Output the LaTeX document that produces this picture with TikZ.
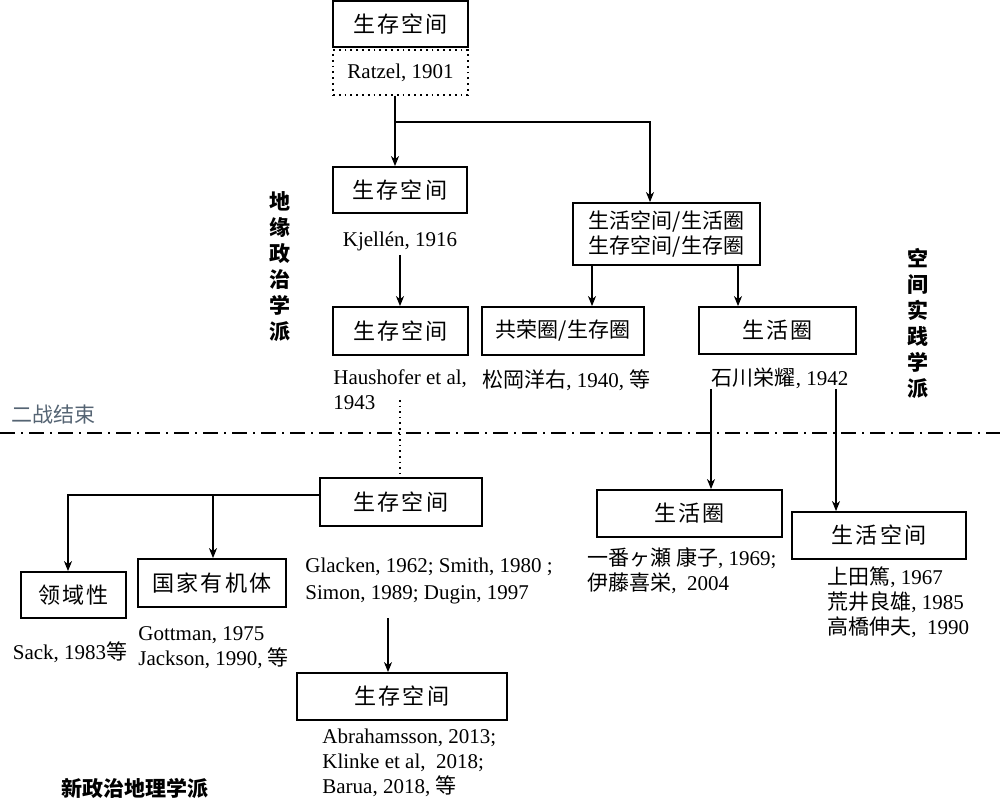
\documentclass[tikz,border=0pt]{standalone}
\usepackage{fontspec}
\setmainfont{Liberation Serif}
\newfontfamily\cjk{Noto Sans CJK SC}
\newfontfamily\cjksp{Noto Sans CJK SC}[Scale=1.05, LetterSpace=9]
\newfontfamily\cjkls{Noto Sans CJK SC}[Scale=1.0, LetterSpace=1]
\usetikzlibrary{arrows.meta, positioning}
\definecolor{endwar}{RGB}{85,100,115}
\newcommand{\zh}[1]{{\cjk #1}}
\tikzset{
	block/.style={draw, line width=0.9pt, inner sep=0pt, font=\fontsize{10.5}{12.5}\cjksp},
	tightblock/.style={draw, line width=0.9pt, inner sep=0pt, align=center, font=\fontsize{10.5}{12.5}\cjkls},
	dotblock/.style={draw, dotted, line width=0.9pt, inner sep=0pt, font=\fontsize{10.5}{12.5}\selectfont},
	cite/.style={inner sep=0pt, align=left, font=\fontsize{10.5}{12.5}\selectfont},
	school/.style={inner sep=0pt, align=center, font=\fontsize{10.5}{13}\cjk\bfseries},
	conn/.style={line width=0.6pt},
	dotline/.style={dotted, line width=0.8pt},
	warline/.style={line width=1pt, dash pattern=on 7.5pt off 3pt on 1pt off 3pt}
}

\begin{document}
\begin{tikzpicture}[x=0.5pt, y=-0.5pt, >={Stealth[length=5pt, width=4pt, inset=1.5pt]}]
	\useasboundingbox (0,0) rectangle (1000,801);
	
	% Ratzel
	\node[block, minimum width=67.5pt, minimum height=23pt] (ratzel) at (400.5,24) {生存空间};
	\node[dotblock, minimum width=67.5pt, minimum height=22.5pt] (ratzelref) at (400.5,72.5) {Ratzel, 1901};
	
	% Geopolitics branch
	\node[block, minimum width=67pt, minimum height=23pt] (kjellen) at (400,190) {生存空间};
	\node[cite] (kjellenref) at (400,241) {Kjellén, 1916};
	\node[block, minimum width=67.5pt, minimum height=24pt] (haushofer) at (400.5,331) {生存空间};
	\node[cite, anchor=west] (haushoferref) at (333,389.5) {Haushofer et al,\\1943};
	
	% Japanese branch
	\node[tightblock, minimum width=93.5pt, minimum height=31pt] (lebens) at (666.5,234) {生活空间/生活圈\\生存空间/生存圈};
	\node[tightblock, minimum width=81pt, minimum height=24pt] (kyoei) at (563,331) {共荣圈/生存圈};
	\node[cite, anchor=west] (kyoeiref) at (482,380) {\zh{松岡洋右}, 1940, \zh{等}};
	\node[block, minimum width=78.5pt, minimum height=23.5pt] (seikatsu) at (777.5,330.5) {生活圈};
	\node[cite] (seikatsuref) at (780,378) {\zh{石川栄耀}, 1942};
	
	% End of the war
	\node[inner sep=0pt, text=endwar, font=\fontsize{10.5}{12.5}\cjk] (wwii) at (53,415) {二战结束};
	\coordinate (warL) at (0,433);
	\coordinate (warR) at (1000,433);
	\draw[warline] (warL) -- (warR);
	
	% Post-war boxes
	\node[block, minimum width=81pt, minimum height=24pt] (post) at (401,502) {生存空间};
	\node[cite, anchor=west, font=\fontsize{10.5}{13.5}\selectfont] (postref) at (305,580.5) {Glacken, 1962; Smith, 1980 ;\\Simon, 1989; Dugin, 1997};
	\node[block, minimum width=52.5pt, minimum height=23pt] (territory) at (73.5,595) {领域性};
	\node[cite] (territoryref) at (70,652) {Sack, 1983\zh{等}};
	\node[block, minimum width=74pt, minimum height=24pt] (organism) at (212,583) {国家有机体};
	\node[cite, anchor=west] (organismref) at (138,647.5) {Gottman, 1975\\Jackson, 1990, \zh{等}};
	\node[block, minimum width=105pt, minimum height=23.5pt] (recent) at (402,696.5) {生存空间};
	\node[cite, anchor=west] (recentref) at (322,763) {Abrahamsson, 2013;\\Klinke et al, \ 2018;\\Barua, 2018, \zh{等}};
	\node[block, minimum width=92.5pt, minimum height=23.5pt] (lifesphere) at (689.5,513.5) {生活圈};
	\node[cite, anchor=west] (lifesphereref) at (587,570.5) {\zh{一番ヶ瀬 康子}, 1969;\\\zh{伊藤喜栄}, \ 2004};
	\node[block, minimum width=87pt, minimum height=23.5pt] (lifespace) at (879,535.5) {生活空间};
	\node[cite, anchor=west] (lifespaceref) at (827,602.5) {\zh{上田篤}, 1967\\\zh{荒井良雄}, 1985\\\zh{高橋伸夫}, \ 1990};
	
	% Schools
	\node[school] (geopol) at (280,267) {地\\缘\\政\\治\\学\\派};
	\node[school] (practice) at (918,323) {空\\间\\实\\践\\学\\派};
	\node[school] (newpol) at (135,788) {新政治地理学派};
	
	% Arrows
	\coordinate (split) at (395,122);
	\coordinate (splitR) at (650,122);
	\draw[conn, ->] (ratzelref.south -| split) -- (kjellen.north -| split);
	\draw[conn, ->] (split) -- (splitR) -- (splitR |- lebens.north);
	\draw[conn, ->] ([yshift=-2pt]kjellenref.south) -- (haushofer.north -| kjellenref.south);
	\coordinate (hausdots) at (400,400);
	\draw[dotline] (hausdots) -- (hausdots |- post.north);
	\coordinate (kyoeiA) at (592,0);
	\coordinate (seikA) at (738,0);
	\draw[conn, ->] (lebens.south -| kyoeiA) -- (kyoei.north -| kyoeiA);
	\draw[conn, ->] (lebens.south -| seikA) -- (seikatsu.north -| seikA);
	\coordinate (sphereA) at (711,389);
	\coordinate (spaceA) at (836,389);
	\draw[conn, ->] (sphereA) -- (lifesphere.north -| sphereA);
	\draw[conn, ->] (spaceA) -- (lifespace.north -| spaceA);
	\coordinate (terrA) at (68,495);
	\coordinate (orgA) at (213,495);
	\draw[conn, ->] (post.west |- terrA) -| (territory.north -| terrA);
	\draw[conn, ->] (orgA) -- (organism.north -| orgA);
	\coordinate (recentA) at (388,618);
	\draw[conn, ->] (recentA) -- (recent.north -| recentA);
\end{tikzpicture}
\end{document}
